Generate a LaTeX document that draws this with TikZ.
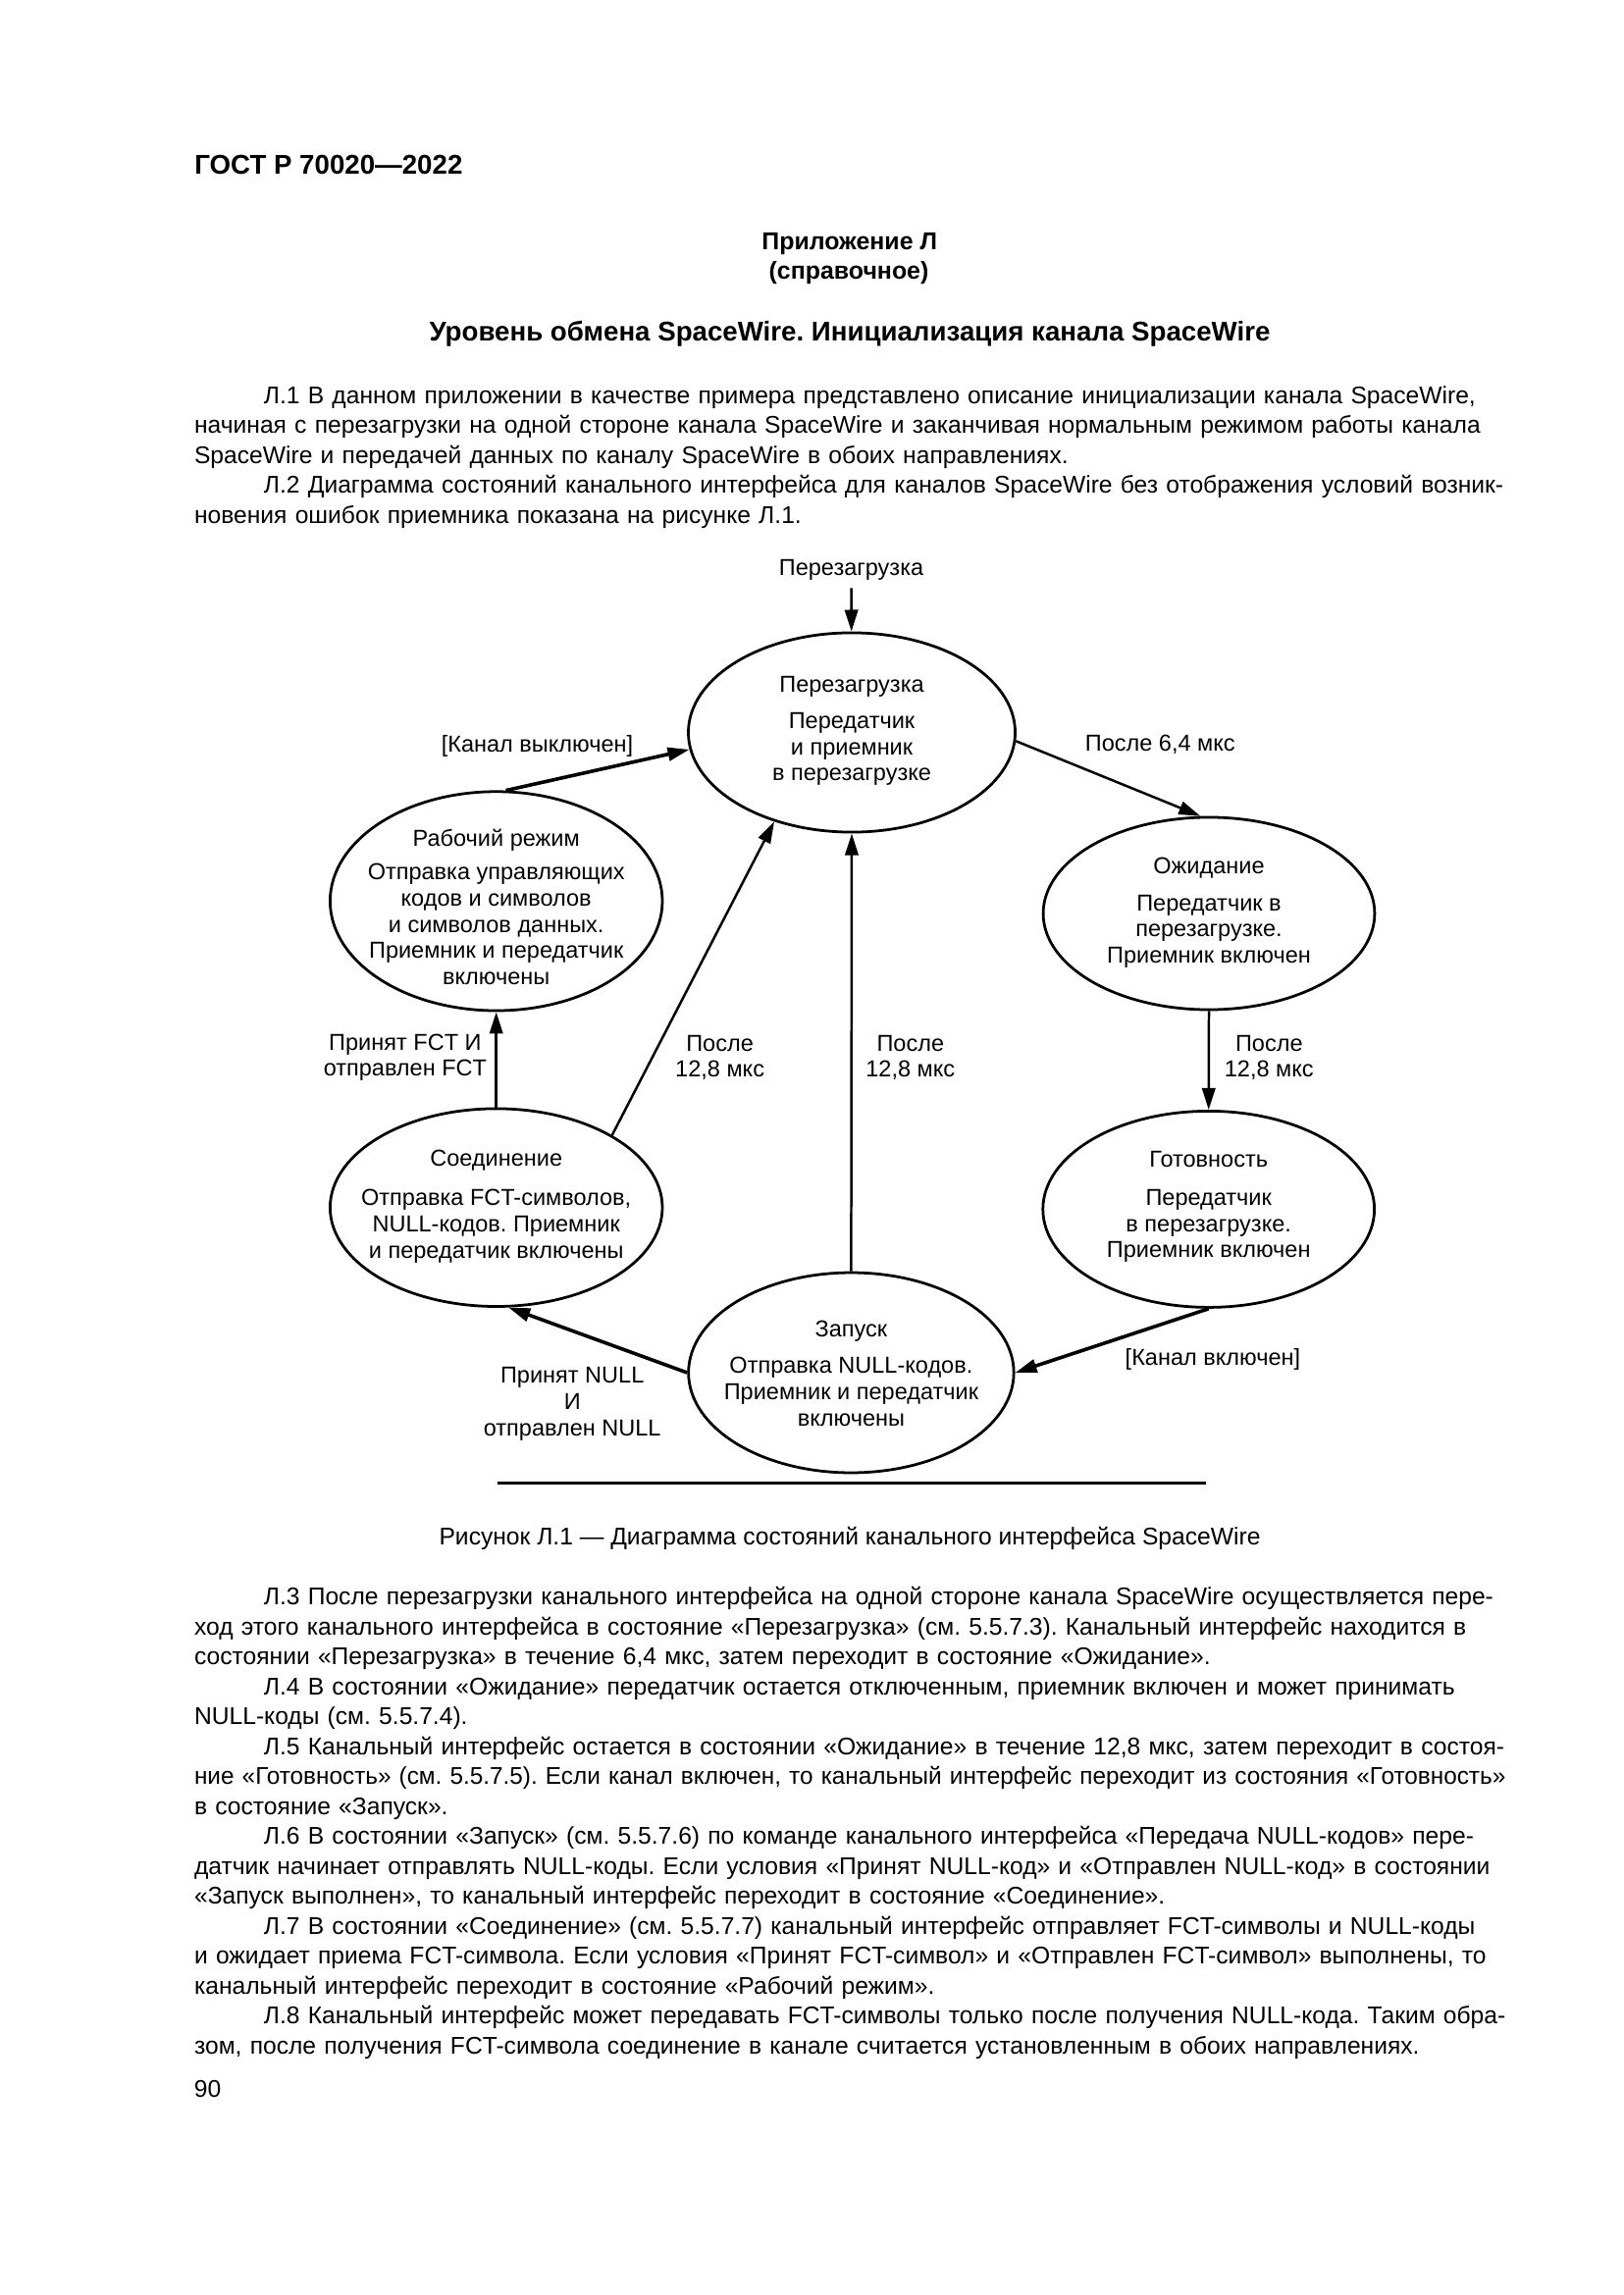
\documentclass[tikz,border=0pt]{standalone}
\usepackage{fontspec}
\setmainfont{Liberation Sans}
\usetikzlibrary{shapes.geometric,arrows.meta}
\setlength{\parindent}{0pt}
\frenchspacing
\newlength{\bodyw}\setlength{\bodyw}{169.7mm}
\newlength{\indw}\setlength{\indw}{9mm}
\newlength{\linew}
% justified line: stretch the spaces, squeeze the line if it is too long
\newcommand{\fitline}[1]{%
  \setbox0=\hbox to \linew{#1}%
  \ifnum\badness>10000 \resizebox{\linew}{\height}{#1}\else\box0\fi}
\newcommand{\parafirst}[1]{\leavevmode\hspace*{\indw}\setlength{\linew}{\dimexpr\bodyw-\indw\relax}\fitline{#1}}
\newcommand{\paraline}[1]{\leavevmode\setlength{\linew}{\bodyw}\fitline{#1}}
\tikzset{
  state/.style={draw, ellipse, line width=1pt, inner sep=0pt},
  statetext/.style={align=center, inner sep=0pt, font=\fontsize{8.5}{9.65}\selectfont},
  lbl/.style={align=center, inner sep=0pt, font=\fontsize{8.5}{9.65}\selectfont},
  arr/.style={line width=0.9pt, -{Triangle[length=2.8mm,width=1.7mm]}},
  thickarr/.style={arr, line width=1.3pt},
  bodytext/.style={anchor=north west, inner sep=0pt, text width=\bodyw, align=left, font=\fontsize{8.9}{11.03}\selectfont},
}
\begin{document}
\begin{tikzpicture}[x=0.127mm, y=-0.127mm]
  % Page
  \fill[white] (0,0) rectangle (1654,2339);
  \useasboundingbox (0,0) rectangle (1654,2339);

  % Heading
  \node[anchor=base west, inner sep=0pt, font=\bfseries\fontsize{10}{12}\selectfont] (gost) at (197.8,177.7) {ГОСТ Р 70020—2022};
  \node[anchor=mid, inner sep=0pt, font=\bfseries\fontsize{9}{11}\selectfont] (annex) at (865.7,246.7) {Приложение Л};
  \node[anchor=mid, inner sep=0pt, font=\bfseries\fontsize{9}{11}\selectfont] (refnote) at (865,276.7) {(справочное)};
  \node[anchor=mid, inner sep=0pt, font=\bfseries\fontsize{10}{12}\selectfont] (title) at (866,340.5) {Уровень обмена SpaceWire. Инициализация канала SpaceWire};

  % Text before the figure
  \node[bodytext] (para1) at (197.5,389.3) {\strut\parafirst{Л.1 В данном приложении в качестве примера представлено описание инициализации канала SpaceWire,}\\
    \paraline{начиная с перезагрузки на одной стороне канала SpaceWire и заканчивая нормальным режимом работы канала}\\
    SpaceWire и передачей данных по каналу SpaceWire в обоих направлениях.\\
    \parafirst{Л.2 Диаграмма состояний канального интерфейса для каналов SpaceWire без отображения условий возник-}\\
    новения ошибок приемника показана на рисунке Л.1.};

  % States
  \node[state, minimum width=42.3mm, minimum height=25.8mm] (reset) at (868,746.5) {};
  \node[state, minimum width=43mm, minimum height=28.35mm] (run) at (505.7,918.4) {};
  \node[state, minimum width=42.9mm, minimum height=24.9mm] (wait) at (1232,931) {};
  \node[state, minimum width=43mm, minimum height=25.6mm] (connect) at (505.7,1230.7) {};
  \node[state, minimum width=42.9mm, minimum height=25.4mm] (ready) at (1231.7,1232.4) {};
  \node[state, minimum width=42.1mm, minimum height=25.9mm] (start) at (867.4,1399) {};

  \node[statetext] (reset-t) at (868,745) {Перезагрузка\\[1.3mm]Передатчик\\и приемник\\в перезагрузке};
  \node[statetext] (run-t) at (505.7,924.5) {Рабочий режим\\[0.9mm]Отправка управляющих\\кодов и символов\\и символов данных.\\Приемник и передатчик\\включены};
  \node[statetext] (wait-t) at (1232,930.3) {Ожидание\\[1.36mm]Передатчик в\\перезагрузке.\\Приемник включен};
  \node[statetext] (connect-t) at (505.7,1229.7) {Соединение\\[1.65mm]Отправка FCT-символов,\\NULL-кодов. Приемник\\и передатчик включены};
  \node[statetext] (ready-t) at (1231.7,1230.1) {Готовность\\[1.55mm]Передатчик\\в перезагрузке.\\Приемник включен};
  \node[statetext] (start-t) at (867.4,1399.9) {Запуск\\[1.3mm]Отправка NULL-кодов.\\Приемник и передатчик\\включены};

  % Transition labels
  \node[lbl, anchor=mid, inner sep=2.8pt] (resetin) at (867.5,579) {Перезагрузка};
  \node[lbl, anchor=mid] (offlbl) at (547.5,759) {[Канал выключен]};
  \node[lbl, anchor=mid] (t64lbl) at (1182.3,758.2) {После 6,4 мкс};
  \node[lbl] (fctlbl) at (412.9,1077.8) {Принят FCT И\\отправлен FCT};
  \node[lbl] (t128a) at (733.6,1077.8) {После\\12,8 мкс};
  \node[lbl] (t128b) at (927.8,1077.8) {После\\12,8 мкс};
  \node[lbl] (t128c) at (1293.3,1077.8) {После\\12,8 мкс};
  \node[lbl, anchor=mid] (onlbl) at (1235.9,1384) {[Канал включен]};
  \node[lbl] (nulllbl) at (583.2,1431) {Принят NULL\\И\\отправлен NULL};

  % Transitions
  \draw[arr] (resetin) -- (reset);
  \draw[thickarr] (run.85) -- (reset.186);
  \draw[arr] (reset.357) -- (wait.95);
  \draw[arr] (wait.south) -- (ready.north);
  \draw[thickarr] (ready.south) -- (start.east);
  \draw[thickarr] (start.west) -- (connect.277);
  \draw[arr] (start.north) -- (reset.south);
  \draw[arr] (connect.32) -- (reset.229);
  \draw[arr] (connect.north) -- (run.south);

  % Rule and caption
  \draw[line width=1.1pt] (506.6,1511.4) -- (1229,1511.4);
  \node[anchor=mid, inner sep=0pt, font=\fontsize{8.9}{11}\selectfont] (caption) at (866,1567) {Рисунок Л.1 — Диаграмма состояний канального интерфейса SpaceWire};

  % Text after the figure
  \node[bodytext] (para2) at (197.5,1613.6) {\strut\parafirst{Л.3 После перезагрузки канального интерфейса на одной стороне канала SpaceWire осуществляется пере-}\\
    \paraline{ход этого канального интерфейса в состояние «Перезагрузка» (см. 5.5.7.3). Канальный интерфейс находится в}\\
    состоянии «Перезагрузка» в течение 6,4 мкс, затем переходит в состояние «Ожидание».\\
    \parafirst{Л.4 В состоянии «Ожидание» передатчик остается отключенным, приемник включен и может принимать}\\
    NULL-коды (см. 5.5.7.4).\\
    \parafirst{Л.5 Канальный интерфейс остается в состоянии «Ожидание» в течение 12,8 мкс, затем переходит в состоя-}\\
    \paraline{ние «Готовность» (см. 5.5.7.5). Если канал включен, то канальный интерфейс переходит из состояния «Готовность»}\\
    в состояние «Запуск».\\
    \parafirst{Л.6 В состоянии «Запуск» (см. 5.5.7.6) по команде канального интерфейса «Передача NULL-кодов» пере-}\\
    \paraline{датчик начинает отправлять NULL-коды. Если условия «Принят NULL-код» и «Отправлен NULL-код» в состоянии}\\
    «Запуск выполнен», то канальный интерфейс переходит в состояние «Соединение».\\
    \parafirst{Л.7 В состоянии «Соединение» (см. 5.5.7.7) канальный интерфейс отправляет FCT-символы и NULL-коды}\\
    \paraline{и ожидает приема FCT-символа. Если условия «Принят FCT-символ» и «Отправлен FCT-символ» выполнены, то}\\
    канальный интерфейс переходит в состояние «Рабочий режим».\\
    \parafirst{Л.8 Канальный интерфейс может передавать FCT-символы только после получения NULL-кода. Таким обра-}\\
    зом, после получения FCT-символа соединение в канале считается установленным в обоих направлениях.};

  % Page number
  \node[anchor=base west, inner sep=0pt, font=\fontsize{8.9}{11}\selectfont] (pagenum) at (197.4,2137) {90};
\end{tikzpicture}
\end{document}
